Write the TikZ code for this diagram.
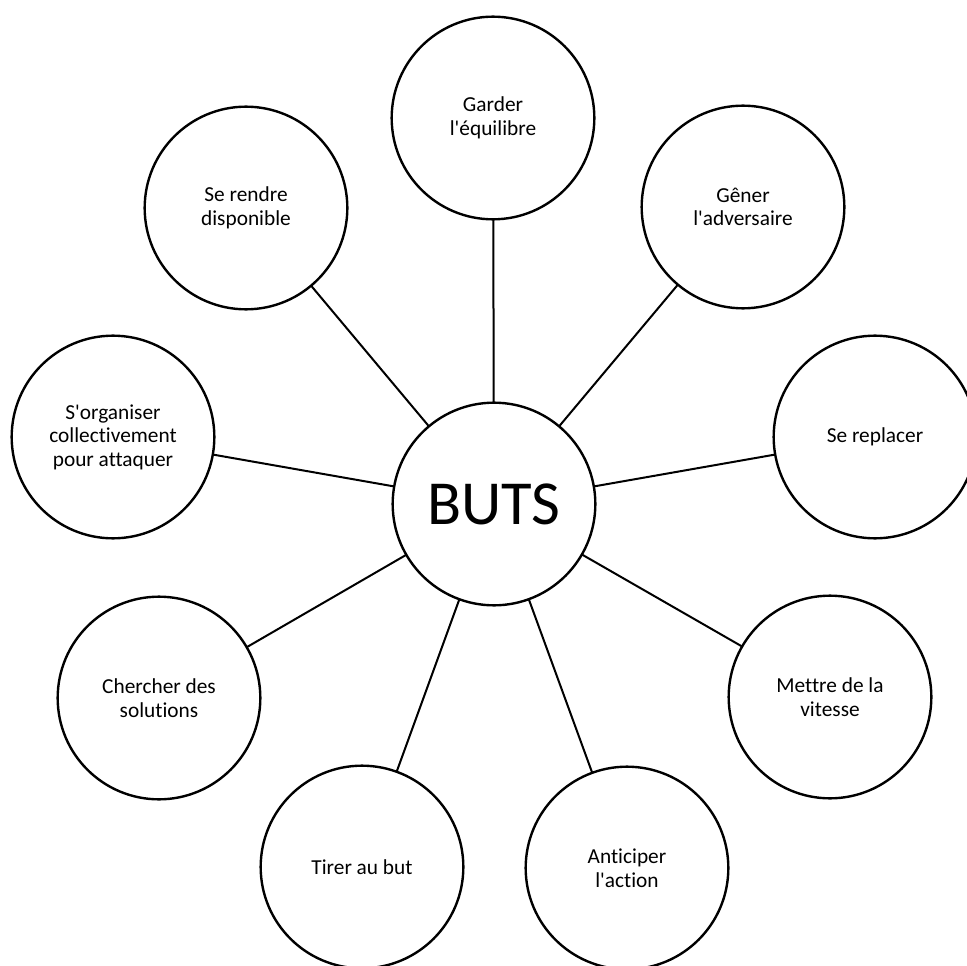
\documentclass[tikz,border=0pt]{standalone}
\usepackage{fontspec}
\setmainfont{Carlito}[Ligatures={TeXOff,NoCommon}]
\begin{document}
\begin{tikzpicture}[x=0.75pt,y=-0.75pt,
  leaf/.style={circle,draw,line width=1.8pt,minimum size=152pt,inner sep=0pt,outer sep=0pt,align=center,font=\fontsize{16}{17.6}\selectfont},
  hub/.style={leaf,font=\fontsize{47}{56}\selectfont},
  link/.style={line width=1.5pt}]
\useasboundingbox (0,0) rectangle (967,966);
\clip (0,0) rectangle (967,966);
\node[hub]  (buts)      at (494,504) {BUTS};
\node[leaf] (garder)    at (493,118) {Garder\\l'équilibre};
\node[leaf] (gener)     at (743,207) {Gêner\\l'adversaire};
\node[leaf] (replacer)  at (875,437) {Se replacer};
\node[leaf] (mettre)    at (830,697) {Mettre de la\\vitesse};
\node[leaf] (anticiper) at (627,868) {Anticiper\\l'action};
\node[leaf] (tirer)     at (362,867) {Tirer au but};
\node[leaf] (chercher)  at (159,698) {Chercher des\\solutions};
\node[leaf] (organiser) at (113,437) {S'organiser\\collectivement\\pour attaquer};
\node[leaf] (rendre)    at (246,208) {Se rendre\\disponible};
\foreach \n in {garder,gener,replacer,mettre,anticiper,tirer,chercher,organiser,rendre}
  \draw[link] (buts) -- (\n);
\end{tikzpicture}
\end{document}
